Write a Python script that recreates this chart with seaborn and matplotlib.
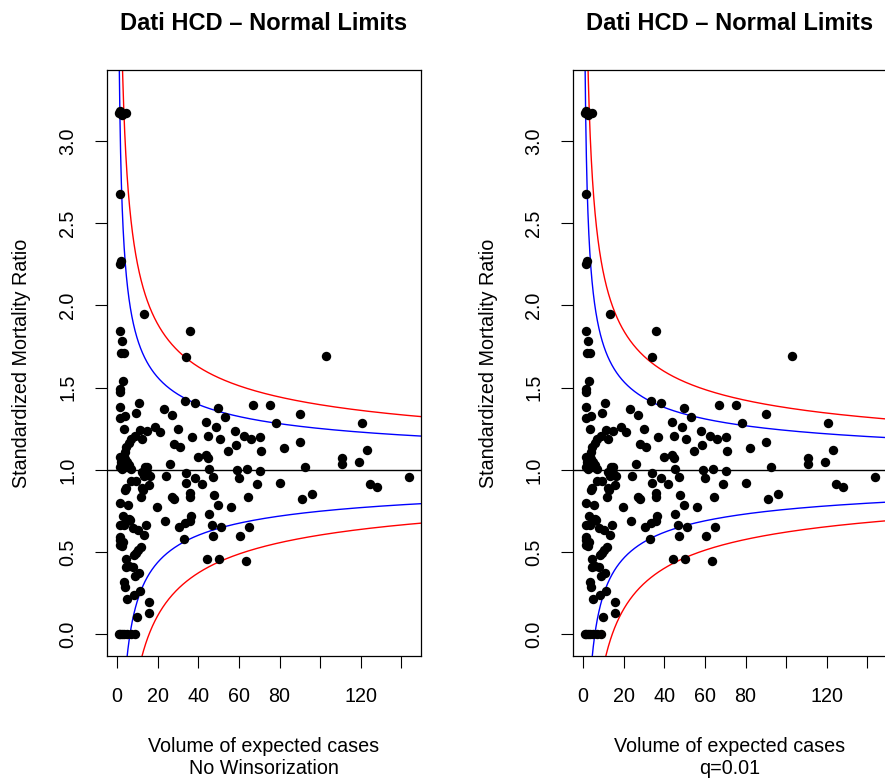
import numpy as np
import pandas as pd
import matplotlib
matplotlib.use("Agg")
import matplotlib.pyplot as plt
import seaborn as sns

# ---- data ----
expected = [0.8, 1.5, 2.5, 4.3, 1.2, 1.8, 1.6, 13.1, 1.6, 36.0, 2.5, 2.0, 3.2, 34.1, 102.7,
            2.9, 1.6, 1.6, 1.6, 10.7, 9.1, 1.6, 3.7, 3.2, 22.9, 27.2, 33.3, 38.5, 49.7, 53.1,
            66.9, 75.5, 89.9, 78.4, 120.8, 43.6, 48.5, 58.2, 62.3, 66.1, 70.2, 89.9, 30.0, 21.3,
            18.5, 14.7, 11.4, 12.1, 36.8, 44.9, 50.8, 27.8, 30.8, 58.4, 54.6, 70.8, 82.2, 123.1,
            110.9, 110.6, 119.1, 92.5, 39.8, 43.6, 44.7, 26.2, 45.2, 47.2, 59.2, 60.0, 63.9, 70.5,
            68.9, 80.4, 143.7, 124.7, 128.0, 96.0, 90.9, 64.6, 55.9, 47.5, 49.7, 45.2, 46.9, 51.0,
            47.2, 64.8, 60.3, 44.2, 50.1, 63.3, 33.7, 33.7, 38.2, 41.6, 36.1, 36.1, 27.2, 27.8,
            19.6, 23.4, 30.4, 33.3, 35.7, 36.6, 32.9, 24.2, 13.5, 14.8, 13.0, 16.0, 12.3, 14.7,
            15.7, 12.7, 11.9, 7.0, 9.1, 3.7, 4.5, 1.6, 5.3, 2.9, 1.6, 3.2, 6.5, 7.8, 10.2,
            14.0, 13.2, 1.6, 2.4, 4.5, 5.8, 7.8, 8.3, 10.2, 11.9, 8.6, 10.7, 3.2, 3.7,
            5.0, 8.3, 11.4, 15.5, 15.5, 9.8, 0.7, 1.5, 2.5, 3.5, 5.0, 7.0, 9.0,
            8.6, 7.0, 5.8, 4.5, 3.7, 3.2, 1.6, 2.0, 3.7, 5.0, 6.0, 5.0, 1.6, 2.5, 7.0,
            12.4, 5.8, 3.7, 1.6, 2.9, 1.6, 9.5, 4.2]
smr = [3.17, 3.18, 3.16, 3.17, 2.675, 2.27, 2.25, 1.947, 1.844, 1.844, 1.783, 1.712, 1.712, 1.688, 1.694,
       1.540, 1.489, 1.475, 1.380, 1.408, 1.347, 1.313, 1.327, 1.246, 1.370, 1.333, 1.420, 1.408, 1.374, 1.323,
       1.394, 1.394, 1.337, 1.286, 1.283, 1.293, 1.262, 1.238, 1.207, 1.185, 1.201, 1.167, 1.246, 1.232,
       1.262, 1.236, 1.242, 1.185, 1.198, 1.205, 1.185, 1.155, 1.137, 1.151, 1.116, 1.116, 1.131, 1.120,
       1.070, 1.035, 1.049, 1.019, 1.080, 1.090, 1.070, 1.033, 1.003, 0.958, 0.999, 0.952, 1.003, 0.995,
       0.914, 0.922, 0.958, 0.914, 0.897, 0.853, 0.824, 0.837, 0.772, 0.845, 0.788, 0.733, 0.666, 0.654,
       0.599, 0.654, 0.599, 0.456, 0.460, 0.444, 0.982, 0.922, 0.948, 0.914, 0.861, 0.837, 0.837, 0.821,
       0.776, 0.691, 0.654, 0.675, 0.691, 0.721, 0.579, 0.964, 1.020, 0.980, 0.960, 0.960, 0.985, 1.015,
       0.908, 0.877, 0.837, 0.934, 0.934, 0.877, 0.888, 0.796, 0.786, 0.721, 0.664, 0.664, 0.695, 0.644, 0.634,
       0.664, 0.604, 0.573, 0.537, 0.456, 0.415, 0.411, 0.482, 0.512, 0.532, 0.354, 0.374, 0.316, 0.289,
       0.213, 0.239, 0.265, 0.198, 0.131, 0.107, 0.0, 0.0, 0.0, 0.0, 0.0, 0.0, 0.0,
       1.205, 1.185, 1.161, 1.137, 1.110, 1.080, 1.080, 1.050, 1.065, 1.050, 1.030, 1.020, 1.020, 1.005, 1.005,
       0.888, 0.701, 0.675, 0.593, 0.563, 0.543, 0.492, 0.411]

panel_titles = ["Dati HCD \u2013 Normal Limits", "Dati HCD \u2013 Normal Limits"]
panel_subtitles = ["No Winsorization", "q=0.01"]
phi_values = [1.645, 1.50]          # overdispersion factor per panel
z_values = [1.96, 3.09]             # 95% and 99.8% limits
limit_colors = ["blue", "red"]
x_ticks = [0, 20, 40, 60, 80, 100, 120, 140]
x_ticklabels = ["0", "20", "40", "60", "80", "", "120", ""]
y_ticks = [0.0, 0.5, 1.0, 1.5, 2.0, 2.5, 3.0]
y_ticklabels = ["0.0", "0.5", "1.0", "1.5", "2.0", "2.5", "3.0"]

df = pd.DataFrame({"expected": expected, "smr": smr})

sns.set_style("white")
plt.rcParams["font.family"] = ["Liberation Sans", "DejaVu Sans"]
plt.rcParams["text.color"] = "black"
plt.rcParams["axes.labelcolor"] = "black"
plt.rcParams["xtick.color"] = "black"
plt.rcParams["ytick.color"] = "black"

W, H = 885, 780
fig = plt.figure(figsize=(W / 100, H / 100), dpi=100)

ax_w = 314 / W
ax_h = 586 / H
ax_b = (H - 656) / H
lefts = [107 / W, 573 / W]

grid = np.geomspace(0.3, 170, 800)
base_fs = 14.2

for i in range(2):
    ax = fig.add_axes([lefts[i], ax_b, ax_w, ax_h])
    for z, col in zip(z_values, limit_colors):
        half = z * np.sqrt(phi_values[i] / grid)
        lim_df = pd.DataFrame({"e": np.concatenate([grid, grid]),
                               "v": np.concatenate([1 + half, 1 - half]),
                               "side": ["up"] * len(grid) + ["lo"] * len(grid)})
        for side in ["up", "lo"]:
            sub = lim_df[lim_df["side"] == side]
            sns.lineplot(data=sub, x="e", y="v", color=col, lw=1.0, ax=ax,
                         estimator=None, sort=False)
    ax.axhline(1.0, color="black", lw=1.0)
    sns.scatterplot(data=df, x="expected", y="smr", color="black", s=46,
                    linewidth=0, ax=ax, zorder=5)
    ax.set_xlim(-5.0, 149.7)
    ax.set_ylim(-0.132, 3.432)
    ax.set_xticks(x_ticks)
    ax.set_xticklabels(x_ticklabels, fontsize=base_fs, color="black")
    ax.set_yticks(y_ticks)
    ax.set_yticklabels(y_ticklabels, fontsize=base_fs, rotation=90, va="center",
                       color="black")
    ax.tick_params(axis="both", direction="out", length=8.5, width=0.8,
                   color="black", labelcolor="black", bottom=True, left=True)
    ax.tick_params(axis="x", pad=14)
    ax.tick_params(axis="y", pad=13)
    for sp in ax.spines.values():
        sp.set_visible(True)
        sp.set_color("black")
        sp.set_linewidth(0.9)
    ax.set_xlabel("Volume of expected cases\n" + panel_subtitles[i],
                  fontsize=base_fs, linespacing=1.2, va="center", color="black")
    ax.xaxis.set_label_coords(0.5, -0.173)
    ax.set_ylabel("Standardized Mortality Ratio", fontsize=base_fs, va="center",
                  color="black")
    ax.yaxis.set_label_coords(-(107 - 22) / 314, 0.5)
    ax.set_title(panel_titles[i], fontsize=17, fontweight="bold", color="black",
                 y=1 + (70 - 23) / 586, va="center", pad=0)
    ax.grid(False)

fig.savefig("out.png", dpi=100)
